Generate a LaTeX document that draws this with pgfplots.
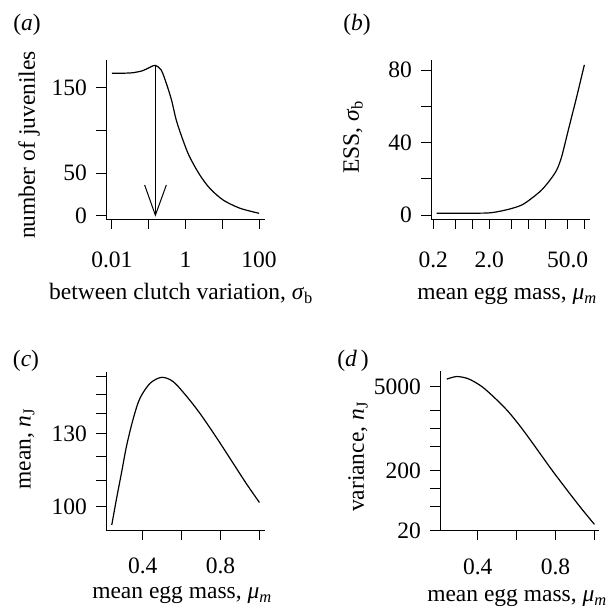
\documentclass[border=0pt]{standalone}
\usepackage{fontspec}
\setmainfont{Liberation Serif}
\usepackage{pgfplots}
\pgfplotsset{compat=1.18}
\newcommand\fs{\fontsize{23.5}{28}\selectfont}

\pgfplotsset{
  panel/.style={
    scale only axis, anchor=south west,
    axis lines=left, axis line style={-, line width=0.9pt},
    tick align=outside, major tick length=10pt,
    tick style={line width=0.9pt, black},
    xminorticks=false, yminorticks=false,
    every tick label/.append style={font=\fs, inner sep=0pt},
    yticklabel style={anchor=east, xshift=-9pt},
    clip=false,
  },
  toprow/.style={xticklabel style={anchor=north, yshift=-23pt}},
  lowrow/.style={xticklabel style={anchor=north, yshift=-18pt}},
  curve/.style={black, line width=1.2pt, smooth, tension=0.5, mark=none},
}

\begin{document}
\begin{tikzpicture}[font=\fs]
\path[use as bounding box] (0,0) rectangle (614pt,608pt);

% (a)
\begin{semilogxaxis}[panel, toprow, at={(106pt,389pt)}, width=159pt, height=159pt,
    xmin=0.00692, xmax=144.5, ymin=-3.9, ymax=182.5,
    xtick={0.01,0.1,1,10,100}, xticklabels={0.01,,1,,100},
    ytick={0,50,100,150}, yticklabels={0,50,,150}]
  \addplot[curve] coordinates {
    (0.01,166.9) (0.02,167.0) (0.0372,167.6) (0.0692,170) (0.107,173.9)
    (0.151,176.2) (0.219,170.7) (0.302,155) (0.417,135.6) (0.562,112)
    (0.851,88.7) (1.29,69.1) (2.45,47.7) (4.57,32.1) (10.5,18.4)
    (30.2,8.7) (100,2.8)};
  \draw[line width=1pt] (axis cs:0.152,176.2) -- (axis cs:0.152,0.5);
  \draw[line width=1pt] (axis cs:0.0776,36) -- (axis cs:0.152,0.5) -- (axis cs:0.302,36);
\end{semilogxaxis}

% (b)
\begin{semilogxaxis}[panel, toprow, at={(431pt,389pt)}, width=159pt, height=159pt,
    xmin=0.182, xmax=125.6, ymin=-2.2, ymax=85.5,
    xtick={0.2,0.5,1,2,5,10,20,50,100}, xticklabels={0.2,,,2.0,,,,50.0,},
    ytick={0,20,40,60,80}, yticklabels={0,,40,,80}]
  \addplot[curve] coordinates {
    (0.23,1.0) (1.11,1.0) (2.2,1.3) (4.37,3.1) (7.57,5.5) (11.4,9.2)
    (17.2,13.8) (24.3,19.3) (31.9,24.8) (39.2,32.2) (51.5,46.9)
    (72.8,65.3) (99.5,82.8)};
\end{semilogxaxis}

% (c)
\begin{semilogyaxis}[panel, lowrow, at={(106pt,78pt)}, width=159pt, height=158pt,
    xmin=0.2113, xmax=1.0287, ymin=91.9, ymax=162.6,
    xtick={0.4,0.6,0.8,1.0}, xticklabels={0.4,,0.8,},
    ytick={100,110,120,130,140,150,160}, yticklabels={100,,,130,,,}]
  \addplot[curve] coordinates {
    (0.241,93.6) (0.266,103.1) (0.292,113.4) (0.318,124.9) (0.352,137.6)
    (0.386,147.9) (0.438,156.1) (0.498,159.5) (0.557,157.0) (0.626,148.9)
    (0.695,139.9) (0.780,128.2) (0.866,116.8) (0.935,108.4) (1.0,101.5)};
\end{semilogyaxis}

% (d)
\begin{semilogyaxis}[panel, lowrow, at={(440pt,77.5pt)}, width=159pt, height=159pt,
    xmin=0.2062, xmax=1.0235, ymin=20, ymax=8870,
    xtick={0.4,0.6,0.8,1.0}, xticklabels={0.4,,0.8,},
    ytick={20,50,100,200,500,1000,2000,5000}, yticklabels={20,,,200,,,,5000}]
  \addplot[curve] coordinates {
    (0.241,6620) (0.292,7310) (0.352,6700) (0.421,4990) (0.489,3190)
    (0.557,1910) (0.626,1010) (0.695,499) (0.780,206) (0.866,88.3)
    (0.935,45.6) (1.0,25.3)};
\end{semilogyaxis}

% panel letters and axis titles
\node at (27pt,583pt) {(\textit{a})};
\node at (357pt,583pt) {(\textit{b})};
\node at (26pt,247pt) {(\textit{c})};
\node at (353pt,247pt) {(\textit{d}\,)};
\node[rotate=90] at (29pt,463pt) {number of juveniles};
\node[rotate=90] at (353pt,471pt) {ESS, \textit{σ}\textsubscript{b}};
\node[rotate=90] at (27pt,159pt) {mean, \textit{n}\textsubscript{J}};
\node[rotate=90] at (358pt,151pt) {variance, \textit{n}\textsubscript{J}};
\node[anchor=base] at (181pt,308pt) {between clutch variation, \textit{σ}\textsubscript{b}};
\node[anchor=base] at (507pt,308pt) {mean egg mass, \textit{μ}\textsubscript{\textit{m}}};
\node[anchor=base] at (182pt,9pt) {mean egg mass, \textit{μ}\textsubscript{\textit{m}}};
\node[anchor=base] at (517pt,6pt) {mean egg mass, \textit{μ}\textsubscript{\textit{m}}};
\end{tikzpicture}
\end{document}
